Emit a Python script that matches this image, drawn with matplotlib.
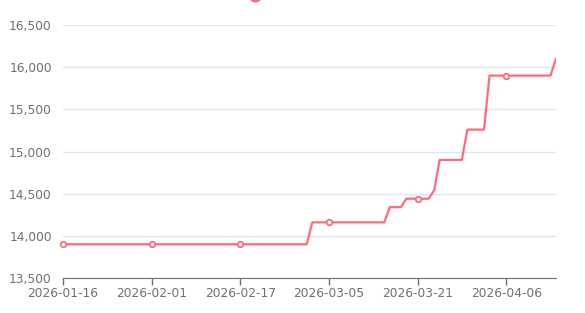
import datetime as dt
import matplotlib
matplotlib.use("Agg")
import matplotlib.pyplot as plt
from matplotlib.lines import Line2D

# daily prices, 2026-01-16 .. 2026-04-15
start = dt.date(2026, 1, 16)
levels = [  # (first day index, price)
    (0, 13900),
    (45, 14160),
    (59, 14340),
    (62, 14440),
    (67, 14540),
    (68, 14900),
    (73, 15260),
    (77, 15900),
    (89, 16100),
]
n_days = 90
prices = []
for d in range(n_days):
    p = levels[0][1]
    for k, v in levels:
        if d >= k:
            p = v
    prices.append(p)
dates = [start + dt.timedelta(days=i) for i in range(n_days)]
date_labels = [d.strftime("%Y-%m-%d") for d in dates]

line_col = "#ff6b7a"
axis_col = "#6e7079"
grid_col = "#e0e6f1"

fig = plt.figure(figsize=(5.85, 3.13), dpi=100)
ax = fig.add_axes([63 / 585, 35 / 313, 493 / 585, 253 / 313])

x = list(range(n_days))
ax.plot(x, prices, color=line_col, lw=1.6, zorder=3)
mk = x[::16]
ax.plot(mk, [prices[i] for i in mk], ls="none", marker="o", ms=4,
        mfc="white", mec=line_col, mew=1.3, zorder=4, clip_on=False)

ax.set_xlim(0, n_days - 1)
ax.set_ylim(13500, 16500)
ax.set_yticks(range(13500, 16501, 500))
ax.set_yticklabels([f"{v:,}" for v in range(13500, 16501, 500)])
ax.set_xticks(mk)
ax.set_xticklabels([date_labels[i] for i in mk])

ax.grid(axis="y", color=grid_col, lw=1)
ax.set_axisbelow(True)
for s in ["top", "right", "left"]:
    ax.spines[s].set_visible(False)
ax.spines["bottom"].set_color(axis_col)
ax.tick_params(axis="y", length=0, pad=8, labelsize=8.8, colors=axis_col)
ax.tick_params(axis="x", length=5, width=1, color=axis_col, pad=1.5,
               labelsize=8.8, labelcolor=axis_col)

# legend icon cut off at the top edge
fig.add_artist(Line2D([255 / 585], [1 + 5 / 313], transform=fig.transFigure,
                      ls="none", marker="o", ms=9, mfc=line_col, mec=line_col,
                      clip_on=False))

fig.savefig("out.png", dpi=100)
